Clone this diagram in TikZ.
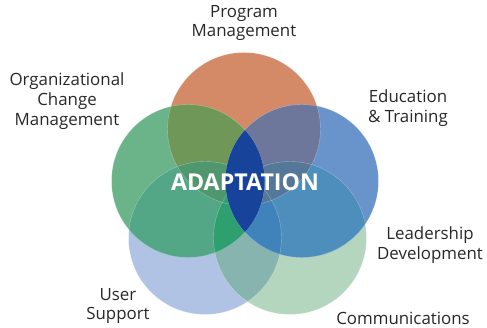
\documentclass[tikz,border=0pt]{standalone}
\usepackage{fontspec}
\newfontfamily\lblfont{Open Sans}
\usetikzlibrary{positioning}

% fill colours of the circles and their overlaps
\definecolor{cOrange}{RGB}{213,138,103}
\definecolor{cGreen}{RGB}{107,180,138}
\definecolor{cBlue}{RGB}{104,147,203}
\definecolor{cLBlue}{RGB}{176,195,229}
\definecolor{cLGreen}{RGB}{181,214,190}
\definecolor{cLM}{RGB}{136,180,176}
\definecolor{cOG}{RGB}{111,152,88}
\definecolor{cOB}{RGB}{108,119,155}
\definecolor{cGL}{RGB}{83,166,134}
\definecolor{cGLO}{RGB}{80,150,110}
\definecolor{cGM}{RGB}{46,160,112}
\definecolor{cBM}{RGB}{78,142,188}
\definecolor{cBML}{RGB}{63,131,186}
\definecolor{cBMO}{RGB}{85,120,152}
\definecolor{cGB}{RGB}{23,68,154}
\definecolor{txtgray}{RGB}{40,40,40}

\tikzset{
  lbl/.style={font=\lblfont\fontsize{12}{14.2}\selectfont, align=center, text=txtgray, inner sep=0pt},
  seam/.style={draw=white, draw opacity=0.35, line width=0.3pt}
}

\begin{document}
\begin{tikzpicture}[x=0.025cm, y=-0.025cm]
	% Define constants
	\def\R{76.5}  % radius of every circle

	\useasboundingbox (0,0) rectangle (487,328);

	% circle centres
	\coordinate (O) at (244,129);  % Program Management
	\coordinate (G) at (188,181);  % Organizational Change Management
	\coordinate (B) at (302,181);  % Education & Training
	\coordinate (L) at (205,238);  % User Support
	\coordinate (M) at (290,238);  % Communications

	% base circles
	\fill[cLBlue] (L) circle (\R);
	\fill[cLGreen] (M) circle (\R);
	\begin{scope}
		\clip (L) circle (\R);
		\fill[cLM] (M) circle (\R);
	\end{scope}
	\fill[cOrange] (O) circle (\R);
	\fill[cGreen] (G) circle (\R);
	\fill[cBlue] (B) circle (\R);

	% overlaps with the top circle
	\begin{scope}
		\clip (O) circle (\R);
		\fill[cOG] (G) circle (\R);
		\fill[cOB] (B) circle (\R);
	\end{scope}

	% overlaps of the left circle
	\begin{scope}
		\clip (G) circle (\R);
		\fill[cGL] (L) circle (\R);
		\begin{scope}
			\clip (L) circle (\R);
			\fill[cGLO] (O) circle (\R);
		\end{scope}
		\fill[cGM] (M) circle (\R);
	\end{scope}

	% overlaps of the right circle
	\begin{scope}
		\clip (B) circle (\R);
		\fill[cBM] (M) circle (\R);
		\begin{scope}
			\clip (M) circle (\R);
			\fill[cBML] (L) circle (\R);
			\fill[cBMO] (O) circle (\R);
		\end{scope}
	\end{scope}

	% thin seams along the circle edges
	\foreach \c in {O, G, B, L, M} {
		\path[seam] (\c) circle (\R);
	}

	% centre lens
	\begin{scope}
		\clip (G) circle (\R);
		\fill[cGB] (B) circle (\R);
	\end{scope}

	% labels
	\node[font=\lblfont\bfseries\fontsize{16.5}{20}\selectfont, text=white, inner sep=0pt] (adapt) at (245,182) {ADAPTATION};
	\node[lbl] (prog) at (244,23) {Program\\Management};
	\node[lbl] (ocm) at (67,101) {Organizational\\Change\\Management};
	\node[lbl] (edu) at (408,108) {Education\\\& Training};
	\node[lbl] (lead) at (430,245) {Leadership\\Development};
	\node[lbl] (comm) at (403,318) {Communications};
	\node[lbl] (user) at (118,306) {User\\Support};

\end{tikzpicture}
\end{document}
